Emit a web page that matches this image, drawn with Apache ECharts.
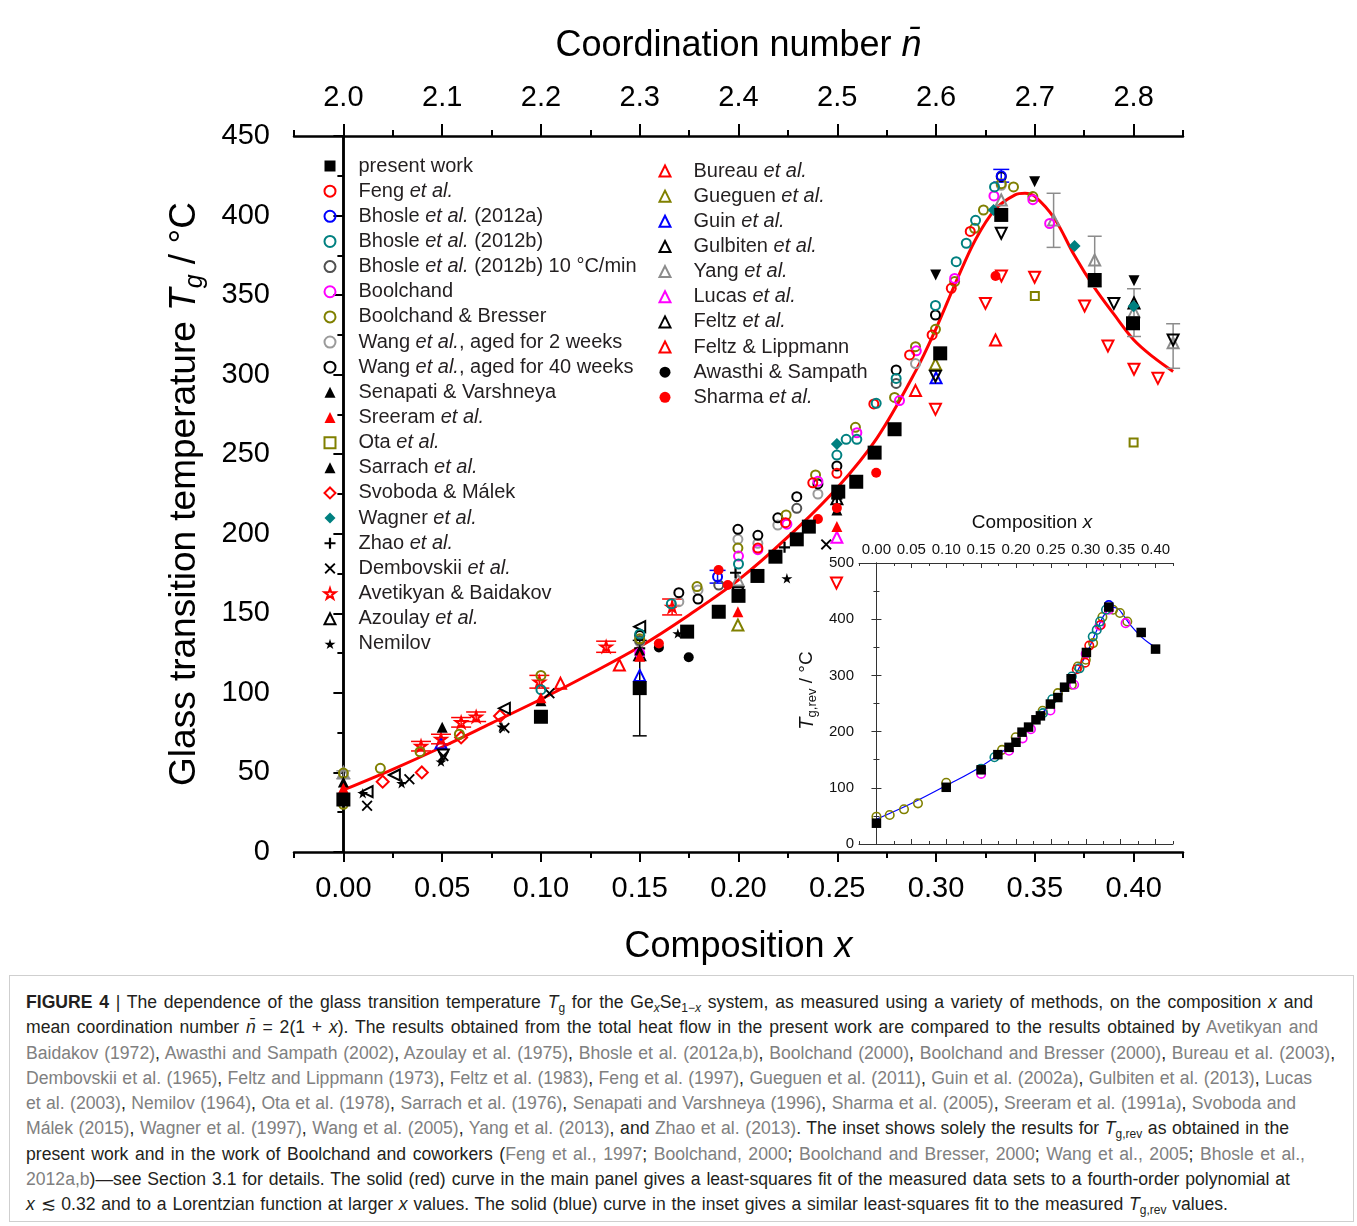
<!DOCTYPE html>
<html><head><meta charset="utf-8">
<script src="https://cdn.jsdelivr.net/npm/echarts@6.0.0/dist/echarts.min.js"></script>
<style>
html,body{margin:0;padding:0;background:#fff;}
#wrap{position:relative;width:1357px;height:1226px;overflow:hidden;background:#fff;}
#frame{position:absolute;left:9px;top:9px;width:1345px;height:1213px;border:1px solid #cfcfcf;box-sizing:border-box;}
#sep{position:absolute;left:9px;top:975px;width:1345px;height:1px;background:#cfcfcf;}
#chart{position:absolute;left:0;top:0;width:1357px;height:975px;}
#cap{position:absolute;left:26px;top:990px;font-family:'Liberation Sans',Arial,sans-serif;font-size:17.6px;line-height:25.3px;color:#231f20;}
#cap div{white-space:nowrap;text-align:justify;text-align-last:justify;height:25.3px;}
#cap .r{color:#808080;}
#cap sub{font-size:12px;line-height:0;vertical-align:-4px;}
</style></head>
<body>
<div id="wrap">
<div id="frame"></div>
<div id="sep"></div>
<div id="chart"></div>
<div id="cap">
<div style="width:1287px"><b>FIGURE 4</b> | The dependence of the glass transition temperature <i>T</i><sub>g</sub> for the Ge<sub><i>x</i></sub>Se<sub>1−<i>x</i></sub> system, as measured using a variety of methods, on the composition <i>x</i> and</div>
<div style="width:1292px">mean coordination number <i>n̄</i> = 2(1 + <i>x</i>). The results obtained from the total heat flow in the present work are compared to the results obtained by <span class="r">Avetikyan and</span></div>
<div style="width:1309px"><span class="r">Baidakov (1972)</span>, <span class="r">Awasthi and Sampath (2002)</span>, <span class="r">Azoulay et al. (1975)</span>, <span class="r">Bhosle et al. (2012a,b)</span>, <span class="r">Boolchand (2000)</span>, <span class="r">Boolchand and Bresser (2000)</span>, <span class="r">Bureau et al. (2003)</span>,</div>
<div style="width:1286px"><span class="r">Dembovskii et al. (1965)</span>, <span class="r">Feltz and Lippmann (1973)</span>, <span class="r">Feltz et al. (1983)</span>, <span class="r">Feng et al. (1997)</span>, <span class="r">Gueguen et al. (2011)</span>, <span class="r">Guin et al. (2002a)</span>, <span class="r">Gulbiten et al. (2013)</span>, <span class="r">Lucas</span></div>
<div style="width:1270px"><span class="r">et al. (2003)</span>, <span class="r">Nemilov (1964)</span>, <span class="r">Ota et al. (1978)</span>, <span class="r">Sarrach et al. (1976)</span>, <span class="r">Senapati and Varshneya (1996)</span>, <span class="r">Sharma et al. (2005)</span>, <span class="r">Sreeram et al. (1991a)</span>, <span class="r">Svoboda and</span></div>
<div style="width:1263px"><span class="r">Málek (2015)</span>, <span class="r">Wagner et al. (1997)</span>, <span class="r">Wang et al. (2005)</span>, <span class="r">Yang et al. (2013)</span>, and <span class="r">Zhao et al. (2013)</span>. The inset shows solely the results for <i>T</i><sub>g,rev</sub> as obtained in the</div>
<div style="width:1279px">present work and in the work of Boolchand and coworkers (<span class="r">Feng et al., 1997</span>; <span class="r">Boolchand, 2000</span>; <span class="r">Boolchand and Bresser, 2000</span>; <span class="r">Wang et al., 2005</span>; <span class="r">Bhosle et al.,</span></div>
<div style="width:1264px"><span class="r">2012a,b</span>)—see Section 3.1 for details. The solid (red) curve in the main panel gives a least-squares fit of the measured data sets to a fourth-order polynomial at</div>
<div style="width:1202px"><i>x</i> ≲ 0.32 and to a Lorentzian function at larger <i>x</i> values. The solid (blue) curve in the inset gives a similar least-squares fit to the measured <i>T</i><sub>g,rev</sub> values.</div>
</div>
</div>
<script>
// ---------------- tick labels ----------------
const mainMajorX = [0, 0.05, 0.10, 0.15, 0.20, 0.25, 0.30, 0.35, 0.40];
const mainMinorX = [-0.025, 0.025, 0.075, 0.125, 0.175, 0.225, 0.275, 0.325, 0.375, 0.425];
const bottomLabels = ['0.00','0.05','0.10','0.15','0.20','0.25','0.30','0.35','0.40'];
const topLabels = ['2.0','2.1','2.2','2.3','2.4','2.5','2.6','2.7','2.8'];
const insetTopLabels = ['0.00','0.05','0.10','0.15','0.20','0.25','0.30','0.35','0.40'];

// ---------------- main panel data [x, Tg] ----------------
const presentWork = [[0,33],[0.10,85],[0.15,103],[0.174,138.5],[0.19,151],[0.20,161],[0.2096,173.5],[0.2187,185.6],[0.2295,196.5],[0.2356,204.5],[0.2505,226.5],[0.2596,232.7],[0.2689,251],[0.279,265.7],[0.3021,313.4],[0.333,400.4],[0.3803,359.5],[0.3997,332.3]];
const presentWorkErr = [[0.15,73,133]];
const feng = [[0.2098,191],[0.2238,207],[0.2376,232],[0.2498,238],[0.2685,281.6],[0.2866,312.4],[0.298,325],[0.3077,354.3],[0.3173,390]];
const bhosleA = [[0.1894,173],[0.333,425]];
const bhosleAErr = [[0.1894,169,177],[0.333,421,429]];
const bhosleB = [[0.10,102],[0.15,137],[0.166,156],[0.20,181],[0.2498,249.5],[0.2545,259.4],[0.2599,259.4],[0.2697,282],[0.2798,297.6],[0.2997,343.5],[0.3102,371],[0.3153,382.6],[0.32,397],[0.3296,418]];
const bhosleB10 = [[0.15,133],[0.19,167.8],[0.2295,216],[0.2798,294.5]];
const boolchand = [[0.15,125],[0.20,186],[0.2098,190],[0.2245,206],[0.2402,233],[0.2599,263.5],[0.2815,283.7],[0.29,315],[0.3094,360.5],[0.3293,412.3],[0.349,410],[0.3575,395]];
const boolchandBresser = [[0,49.6],[0,30],[0.0187,52.6],[0.0388,63],[0.0587,74],[0.10,111],[0.15,134],[0.179,166.8],[0.1997,191],[0.2241,211.8],[0.239,237],[0.2592,266.9],[0.279,285.7],[0.2896,317.6],[0.2997,328.5],[0.3094,358.5],[0.3195,392],[0.324,403.5],[0.333,420],[0.3392,418],[0.349,411.9]];
const wang2w = [[0.15,132],[0.1698,157.3],[0.1795,164.7],[0.1997,196.5],[0.2098,194],[0.2199,205.5],[0.2402,225],[0.2896,307],[0.333,419]];
const wang40w = [[0.15,136],[0.1698,163],[0.1795,159],[0.1997,202.8],[0.2098,199],[0.2199,210],[0.2295,223.3],[0.2402,231.3],[0.2498,242.6],[0.2798,303],[0.2997,337.5],[0.333,424.4]];
const senapati = [[0,44],[0.05,78.4],[0.10,95],[0.15,127],[0.2498,215]];
const sreeram = [[0,40],[0.10,97],[0.15,123],[0.1997,151],[0.2498,204.5]];
const ota = [[0.35,349.5],[0.40,257.3]];
const sarrach = [[0.2998,362.6],[0.3499,421.3],[0.4002,359]];
const svoboda = [[0.0199,44.2],[0.0397,50],[0.0596,72],[0.0793,85.5]];
const wagner = [[0.2498,256.4],[0.3291,403.5],[0.3701,380.9],[0.40,343]];
const zhao = [[0.15,128],[0.1985,175.5],[0.2233,191.5],[0.2498,222]];
const dembovskii = [[0.012,29.1],[0.0334,45.7],[0.0506,60.3],[0.0815,78],[0.1043,99.7],[0.2444,193.3]];
const avetikyan = [[0.0393,66.6],[0.0494,71],[0.0596,81.5],[0.0672,85],[0.0992,107],[0.133,129],[0.1664,154]];
const avetikyanErr = [[0.0393,63.5,69.5],[0.0494,68,74],[0.0596,78.5,84.5],[0.0672,82,88],[0.0992,103,111],[0.133,125.5,132.5],[0.1664,149,159]];
const azoulay = [[0.012,37.9],[0.0258,48.4],[0.0815,90.3],[0.15,141.6]];
const nemilov = [[0.0098,36.9],[0.0295,43.2],[0.0494,56.8],[0.0802,78.8],[0.1693,137.4],[0.2245,172]];
const bureau = [[0.1099,106],[0.1397,117.5],[0.2896,290],[0.3301,321.8]];
const gueguen = [[0.1997,142.7],[0.2997,306.7]];
const guin = [[0.0494,68.5],[0.15,111],[0.30,298]];
const gulbiten = [[0.15,124],[0.2498,222],[0.4002,345]];
const yang = [[0,50],[0.1997,171],[0.333,409.8],[0.3595,397.2],[0.3803,372],[0.4002,339.6],[0.42,320]];
const yangErr = [[0,46,51],[0.3595,380,414],[0.3803,355,387],[0.4002,324,354],[0.42,304,332]];
const lucas = [[0.2498,197.8]];
const feltz = [[0.0506,61],[0.1997,163],[0.2997,299],[0.333,388.9],[0.39,344.8],[0.42,321.8]];
const feltzLippmann = [[0.2496,169],[0.2997,278.2],[0.325,344.8],[0.3331,362],[0.3499,361.2],[0.3752,343.2],[0.387,318],[0.4002,303.4],[0.4123,297.7]];
const awasthi = [[0.1597,128.5],[0.1748,122.4]];
const sharma = [[0.1597,131],[0.1899,177.2],[0.1946,167.8],[0.2402,209.3],[0.2498,216.2],[0.2697,238.4],[0.3301,362]];
const fitMain = [[0,39],[0.025,52],[0.05,66],[0.075,81],[0.10,96],[0.125,112],[0.15,129],[0.175,149],[0.20,171],[0.225,198],[0.25,229],[0.27,260],[0.29,303],[0.30,329],[0.31,358],[0.32,385],[0.33,404],[0.34,413],[0.345,414],[0.35,412],[0.36,398],[0.37,375],[0.38,355],[0.39,338],[0.40,322],[0.41,311],[0.42,302]];

// ---------------- inset data [x, Tg,rev] ----------------
const insetPresent = [[0,37],[0.10,100.9],[0.15,132],[0.174,159],[0.19,172],[0.20,181],[0.2086,199],[0.218,208],[0.2286,221],[0.235,228],[0.2493,249],[0.26,260.6],[0.2696,279],[0.279,294],[0.3009,340.8],[0.333,421.6],[0.3794,376.4],[0.40,346.8]];
const insetBoolchandBresser = [[0,48.6],[0.019,51.6],[0.0395,61.7],[0.0595,72.3],[0.10,109],[0.18,167.5],[0.1996,190],[0.2381,237],[0.26,268.5],[0.28,283.4],[0.2886,315.8],[0.30,327.8],[0.3105,357.5],[0.3238,403.8],[0.3391,416.9],[0.349,411],[0.3595,396]];
const insetBhosleB = [[0.15,134],[0.1691,154.3],[0.2386,232.8],[0.2519,257.6],[0.28,298],[0.291,312.6],[0.31,369],[0.3157,381],[0.3205,395.8],[0.329,416.8]];
const insetBoolchand = [[0.15,124.7],[0.19,166],[0.2095,188],[0.2214,204.3],[0.2493,237.5],[0.2833,283.4],[0.2999,338.6],[0.3195,388.4],[0.333,416.8],[0.3571,393]];
const insetFeng = [[0.2871,311],[0.299,322.7],[0.305,353],[0.3214,389.7]];
const insetBhosleA = [[0.333,425]];
const fitInset = [[0,44],[0.05,72],[0.10,104],[0.15,138],[0.20,184],[0.25,250],[0.28,292],[0.30,336],[0.315,378],[0.325,405],[0.333,418],[0.34,421],[0.347,418],[0.355,405],[0.365,388],[0.38,368],[0.39,358],[0.40,350]];

// ---------------- styling ----------------
const FONT = "'Liberation Sans', Arial, Helvetica, sans-serif";
const C = {red:'#ff0000', blue:'#0000ff', teal:'#008080', dgray:'#505050', mag:'#ff00ff', olive:'#808000', lgray:'#9a9a9a', black:'#000000', tgray:'#8c8c8c'};
const PLUS = 'path://M4,0H6V4H10V6H6V10H4V6H0V4H4Z';
const CROSS = 'path://M1.2,0L5,3.8L8.8,0L10,1.2L6.2,5L10,8.8L8.8,10L5,6.2L1.2,10L0,8.8L3.8,5L0,1.2Z';
const STAR = 'path://M50,0L61,35H98L68,57L79,91L50,70L21,91L32,57L2,35H39Z';

function openS(name, data, symbol, size, color, rot, extra){
  return Object.assign({type:'scatter', name, data, symbol, symbolSize:size, symbolRotate:rot||0,
    symbolKeepAspect:true, xAxisIndex:0, yAxisIndex:0,
    itemStyle:{color:'rgba(255,255,255,0)', borderColor:color, borderWidth:2, opacity:1}}, extra||{});
}
function fillS(name, data, symbol, size, color, rot, extra){
  return Object.assign({type:'scatter', name, data, symbol, symbolSize:size, symbolRotate:rot||0,
    symbolKeepAspect:true, xAxisIndex:0, yAxisIndex:0,
    itemStyle:{color:color, borderWidth:0, opacity:1}}, extra||{});
}
function errS(name, data, color, capHalf, lw){
  return {type:'custom', name, data, xAxisIndex:0, yAxisIndex:0, silent:true, z:2,
    encode:{x:0, y:[1,2]},
    renderItem(params, api){
      const x = api.value(0), lo = api.value(1), hi = api.value(2);
      const a = api.coord([x, lo]), b = api.coord([x, hi]);
      const st = {stroke:color, lineWidth:lw, fill:null};
      return {type:'group', children:[
        {type:'line', shape:{x1:a[0], y1:a[1], x2:b[0], y2:b[1]}, style:st},
        {type:'line', shape:{x1:a[0]-capHalf, y1:a[1], x2:a[0]+capHalf, y2:a[1]}, style:st},
        {type:'line', shape:{x1:b[0]-capHalf, y1:b[1], x2:b[0]+capHalf, y2:b[1]}, style:st}
      ]};
    }};
}
function pick(arr, labels){
  return function(v){
    for (let i = 0; i < arr.length; i++) if (Math.abs(arr[i]-v) < 1e-9) return labels[i];
    return '';
  };
}

const series = [
  {type:'line', name:'fit', data:fitMain, xAxisIndex:0, yAxisIndex:0, smooth:0.35, symbol:'none',
    lineStyle:{color:C.red, width:3}, z:1},
  errS('err-yang', yangErr, C.tgray, 7, 1.5),
  errS('err-avet', avetikyanErr, C.red, 10, 1.5),
  errS('err-bhA', bhosleAErr, C.blue, 8, 1.5),
  errS('err-pw', presentWorkErr, C.black, 7, 1.5),
  openS('Feltz & Lippmann', feltzLippmann, 'triangle', 11, C.red, 180),
  openS('Bureau et al.', bureau, 'triangle', 11, C.red),
  openS('Gueguen et al.', gueguen, 'triangle', 11, C.olive),
  openS('Guin et al.', guin, 'triangle', 11, C.blue),
  openS('Gulbiten et al.', gulbiten, 'triangle', 11, C.black),
  openS('Yang et al.', yang, 'triangle', 11, C.tgray),
  openS('Lucas et al.', lucas, 'triangle', 11, C.mag),
  openS('Feltz et al.', feltz, 'triangle', 11, C.black, 180),
  openS('Ota et al.', ota, 'rect', 8, C.olive),
  openS('Svoboda & Málek', svoboda, 'diamond', 12, C.red),
  openS('Azoulay et al.', azoulay, 'triangle', 11, C.black, 90),
  openS('Avetikyan & Baidakov', avetikyan, STAR, 11, C.red),
  fillS('Zhao et al.', zhao, PLUS, 11, C.black),
  fillS('Dembovskii et al.', dembovskii, CROSS, 11, C.black),
  fillS('Nemilov', nemilov, STAR, 11, C.black),
  openS('Wang et al., aged for 2 weeks', wang2w, 'circle', 9, C.lgray),
  openS('Bhosle et al. (2012b) 10 °C/min', bhosleB10, 'circle', 9, C.dgray),
  openS('Wang et al., aged for 40 weeks', wang40w, 'circle', 9, C.black),
  openS('Boolchand & Bresser', boolchandBresser, 'circle', 9, C.olive),
  openS('Boolchand', boolchand, 'circle', 9, C.mag),
  openS('Feng et al.', feng, 'circle', 9, C.red),
  openS('Bhosle et al. (2012b)', bhosleB, 'circle', 9, C.teal),
  openS('Bhosle et al. (2012a)', bhosleA, 'circle', 9, C.blue),
  fillS('Senapati & Varshneya', senapati, 'triangle', 11, C.black),
  fillS('Sreeram et al.', sreeram, 'triangle', 11, C.red),
  fillS('Sarrach et al.', sarrach, 'triangle', 11, C.black, 180),
  fillS('Wagner et al.', wagner, 'diamond', 12, C.teal),
  fillS('Awasthi & Sampath', awasthi, 'circle', 10, C.black),
  fillS('Sharma et al.', sharma, 'circle', 10, C.red),
  fillS('present work', presentWork, 'rect', 14, C.black),
  // inset
  {type:'line', name:'inset fit', data:fitInset, xAxisIndex:4, yAxisIndex:2, smooth:0.35, symbol:'none',
    lineStyle:{color:C.blue, width:1.2}, z:1},
  openS('i-bb', insetBoolchandBresser, 'circle', 8.5, C.olive, 0, {xAxisIndex:4, yAxisIndex:2}),
  openS('i-bool', insetBoolchand, 'circle', 8.5, C.mag, 0, {xAxisIndex:4, yAxisIndex:2}),
  openS('i-feng', insetFeng, 'circle', 8.5, C.red, 0, {xAxisIndex:4, yAxisIndex:2}),
  openS('i-bhB', insetBhosleB, 'circle', 8.5, C.teal, 0, {xAxisIndex:4, yAxisIndex:2}),
  openS('i-bhA', insetBhosleA, 'circle', 8.5, C.blue, 0, {xAxisIndex:4, yAxisIndex:2}),
  fillS('i-pw', insetPresent, 'rect', 9.5, C.black, 0, {xAxisIndex:4, yAxisIndex:2})
];
series.forEach(s => { s.animation = false; s.emphasis = {disabled:true}; });
series.forEach(s => { if (s.type === 'scatter' && s.itemStyle.borderWidth) s.itemStyle.borderWidth = (s.xAxisIndex === 4 ? 1.6 : 2); });

const legendCol1 = ['present work','Feng et al.','Bhosle et al. (2012a)','Bhosle et al. (2012b)','Bhosle et al. (2012b) 10 °C/min','Boolchand','Boolchand & Bresser','Wang et al., aged for 2 weeks','Wang et al., aged for 40 weeks','Senapati & Varshneya','Sreeram et al.','Ota et al.','Sarrach et al.','Svoboda & Málek','Wagner et al.','Zhao et al.','Dembovskii et al.','Avetikyan & Baidakov','Azoulay et al.','Nemilov'];
const legendCol2 = ['Bureau et al.','Gueguen et al.','Guin et al.','Gulbiten et al.','Yang et al.','Lucas et al.','Feltz et al.','Feltz & Lippmann','Awasthi & Sampath','Sharma et al.'];

const legendText = {fontSize:20, fontFamily:FONT, color:'#231f20', lineHeight:20, padding:[0,0,0,18],
  rich:{i:{fontStyle:'italic', fontSize:20, fontFamily:FONT, color:'#231f20', lineHeight:20}}};
function legend(data, left, top){
  return {data, left, top, orient:'vertical', padding:0, itemGap:5.15, itemWidth:11, itemHeight:11,
    selectedMode:false, textStyle:legendText, formatter:n => n.replace('et al.', '{i|et al.}'),
    symbolKeepAspect:true};
}

const mainAxisLine = {show:true, lineStyle:{color:'#000', width:2.5}};
const insetAxisLine = {show:true, lineStyle:{color:'#333', width:1}};
const lbl = {fontSize:29, fontFamily:FONT, color:'#000'};
const ilbl = {fontSize:15, fontFamily:FONT, color:'#111'};

const option = {
  animation:false,
  backgroundColor:'#fff',
  grid:[
    {left:294, top:136, width:889, height:716, containLabel:false},
    {left:859, top:563, width:314, height:281, containLabel:false, show:true, backgroundColor:'#fff', borderWidth:0}
  ],
  legend:[legend(legendCol1, 323.5, 156), legend(legendCol2, 658.5, 161)],
  xAxis:[
    {gridIndex:0, type:'value', position:'bottom', min:-0.025, max:0.425, axisLine:mainAxisLine, splitLine:{show:false},
     axisTick:{show:true, customValues:mainMajorX, length:10, inside:false, lineStyle:{color:'#000', width:2}},
     axisLabel:{show:true, customValues:mainMajorX, formatter:pick(mainMajorX, bottomLabels), margin:22, ...lbl},
     name:'Composition {i|x}', nameLocation:'middle', nameGap:77,
     nameTextStyle:{fontSize:36, fontFamily:FONT, color:'#000', rich:{i:{fontSize:36, fontStyle:'italic', fontFamily:FONT}}}},
    {gridIndex:0, type:'value', position:'bottom', offset:0, min:-0.025, max:0.425, axisLine:{show:false}, splitLine:{show:false},
     axisTick:{show:true, customValues:mainMinorX, length:6, lineStyle:{color:'#000', width:2}}, axisLabel:{show:false}},
    {gridIndex:0, type:'value', position:'top', min:-0.025, max:0.425, axisLine:mainAxisLine, splitLine:{show:false},
     axisTick:{show:true, customValues:mainMajorX, length:12, lineStyle:{color:'#000', width:2}},
     axisLabel:{show:true, customValues:mainMajorX, formatter:pick(mainMajorX, topLabels), margin:24, ...lbl},
     name:'Coordination number {i|n\u0304}', nameLocation:'middle', nameGap:72,
     nameTextStyle:{fontSize:36, fontFamily:FONT, color:'#000', rich:{i:{fontSize:36, fontStyle:'italic', fontFamily:FONT}}}},
    {gridIndex:0, type:'value', position:'top', offset:0, min:-0.025, max:0.425, axisLine:{show:false}, splitLine:{show:false},
     axisTick:{show:true, customValues:mainMinorX, length:6, lineStyle:{color:'#000', width:2}}, axisLabel:{show:false}},
    // inset
    {gridIndex:1, type:'value', position:'bottom', min:-0.025, max:0.425, axisLine:insetAxisLine, splitLine:{show:false},
     axisTick:{show:true, inside:true, customValues:mainMajorX, length:5, lineStyle:{color:'#333', width:1}}, axisLabel:{show:false}},
    {gridIndex:1, type:'value', position:'bottom', offset:0, min:-0.025, max:0.425, axisLine:{show:false}, splitLine:{show:false},
     axisTick:{show:true, inside:true, customValues:mainMinorX, length:3, lineStyle:{color:'#333', width:1}}, axisLabel:{show:false}},
    {gridIndex:1, type:'value', position:'top', min:-0.025, max:0.425, axisLine:insetAxisLine, splitLine:{show:false},
     axisTick:{show:true, inside:true, customValues:mainMajorX, length:5, lineStyle:{color:'#333', width:1}},
     axisLabel:{show:true, customValues:mainMajorX, formatter:pick(mainMajorX, insetTopLabels), margin:6, ...ilbl},
     name:'Composition {i|x}', nameLocation:'middle', nameGap:31,
     nameTextStyle:{fontSize:19, fontFamily:FONT, color:'#111', padding:[0,0,0,32], rich:{i:{fontSize:19, fontStyle:'italic', fontFamily:FONT, color:'#111'}}}},
    {gridIndex:1, type:'value', position:'top', offset:0, min:-0.025, max:0.425, axisLine:{show:false}, splitLine:{show:false},
     axisTick:{show:true, inside:true, customValues:mainMinorX, length:3, lineStyle:{color:'#333', width:1}}, axisLabel:{show:false}}
  ],
  yAxis:[
    {gridIndex:0, type:'value', position:'left', min:0, max:450, interval:50, axisLine:mainAxisLine, splitLine:{show:false},
     axisTick:{show:true, length:10, lineStyle:{color:'#000', width:2}},
     minorTick:{show:true, splitNumber:2, length:5, lineStyle:{color:'#000', width:2}},
     axisLabel:{margin:24, ...lbl},
     name:'Glass transition temperature {i|T}{s|g} / °C', nameLocation:'middle', nameRotate:90, nameGap:86,
     nameTextStyle:{fontSize:37, fontFamily:FONT, color:'#000', lineHeight:46,
       rich:{i:{fontSize:37, fontStyle:'italic', fontFamily:FONT, lineHeight:46},
             s:{fontSize:25, fontStyle:'italic', fontFamily:FONT, verticalAlign:'bottom', lineHeight:24}}}},
    {gridIndex:0, type:'value', position:'right', min:0, max:450, interval:25, axisLine:mainAxisLine, splitLine:{show:false},
     axisTick:{show:true, inside:true, length:6, lineStyle:{color:'#000', width:2}}, axisLabel:{show:false}},
    {gridIndex:1, type:'value', position:'left', min:0, max:500, interval:100, axisLine:insetAxisLine, splitLine:{show:false},
     axisTick:{show:true, inside:true, length:5, lineStyle:{color:'#333', width:1}},
     minorTick:{show:true, splitNumber:2, length:3, lineStyle:{color:'#333', width:1}},
     axisLabel:{margin:5, ...ilbl},
     name:'{i|T}{s|g,rev} / °C', nameLocation:'middle', nameRotate:90, nameGap:40,
     nameTextStyle:{fontSize:19, fontFamily:FONT, color:'#111', lineHeight:24, padding:[0,0,0,26],
       rich:{i:{fontSize:20, fontStyle:'italic', fontFamily:FONT, color:'#111', lineHeight:24},
             s:{fontSize:13, fontFamily:FONT, color:'#111', verticalAlign:'bottom', lineHeight:13}}}},
    {gridIndex:1, type:'value', position:'right', min:0, max:500, interval:100, axisLine:insetAxisLine, splitLine:{show:false},
     axisTick:{show:true, inside:true, length:5, lineStyle:{color:'#333', width:1}},
     minorTick:{show:true, splitNumber:2, length:3, lineStyle:{color:'#333', width:1}},
     axisLabel:{show:false}}
  ],
  series
};
const chart = echarts.init(document.getElementById('chart'), null, {renderer:'canvas'});
chart.setOption(option);
</script>
</body></html>
